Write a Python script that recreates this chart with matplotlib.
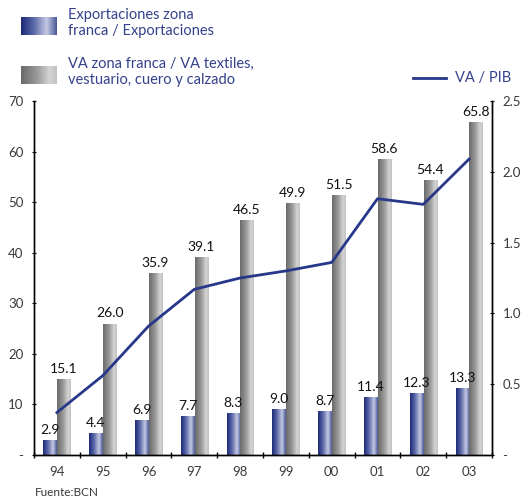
import numpy as np
import matplotlib
matplotlib.use("Agg")
import matplotlib.pyplot as plt
from matplotlib.colors import LinearSegmentedColormap
from matplotlib.lines import Line2D

plt.rcParams['font.family'] = ['Lato', 'DejaVu Sans']

# ---------------- data ----------------
years = ["94", "95", "96", "97", "98", "99", "00", "01", "02", "03"]
export_share = [2.9, 4.4, 6.9, 7.7, 8.3, 9.0, 8.7, 11.4, 12.3, 13.3]
va_share = [15.1, 26.0, 35.9, 39.1, 46.5, 49.9, 51.5, 58.6, 54.4, 65.8]
va_pib = [0.30, 0.56, 0.91, 1.17, 1.25, 1.30, 1.36, 1.81, 1.77, 2.09]
left_ticks = [0, 10, 20, 30, 40, 50, 60, 70]
right_ticks = [0, 0.5, 1.0, 1.5, 2.0, 2.5]
legend_labels = ["Exportaciones zona\nfranca / Exportaciones",
                 "VA zona franca / VA textiles,\nvestuario, cuero y calzado",
                 "VA / PIB"]
source = "Fuente:BCN"

# ---------------- styles ----------------
navy = "#27378a"
text_navy = "#34418c"
blue_cmap = LinearSegmentedColormap.from_list(
    "bl", [(0, "#1c2a78"), (0.35, "#5a67a8"), (0.72, "#c4c9e2"), (1.0, "#4a5898")])
grey_cmap = LinearSegmentedColormap.from_list(
    "gr", [(0, "#6a6a6a"), (0.45, "#9a9a9a"), (0.8, "#d4d4d4"), (1.0, "#c2c2c2")])
grad = np.linspace(0, 1, 64).reshape(1, -1)

fig = plt.figure(figsize=(5.21, 4.99), dpi=100)
ax = fig.add_axes([34 / 521, 44 / 499, 458 / 521, 354 / 499])
ax2 = ax.twinx()

x = np.arange(len(years))
w = 0.29
off = 0.15


def grad_bars(axis, xs, vals, cmap):
    bars = axis.bar(xs, vals, width=w, color="none", edgecolor="none", zorder=2)
    for b in bars:
        x0, y0 = b.get_x(), b.get_y()
        im = axis.imshow(grad, cmap=cmap, aspect="auto",
                         extent=[x0, x0 + b.get_width(), y0, y0 + b.get_height()],
                         zorder=2, interpolation="bilinear")
        im.set_clip_path(b)
    return bars


b1 = grad_bars(ax, x - off, export_share, blue_cmap)
b2 = grad_bars(ax, x + off, va_share, grey_cmap)

for bars, vals in ((b1, export_share), (b2, va_share)):
    for b, v in zip(bars, vals):
        ax.text(b.get_x() + b.get_width() / 2, v + 0.8, f"{v:.1f}",
                ha="center", va="bottom", fontsize=10, color="#111111")

ax.set_xlim(-0.5, len(years) - 0.5)
ax.set_ylim(0, 70)
ax.set_yticks(left_ticks)
ax.set_yticklabels(["-" if t == 0 else f"{t}" for t in left_ticks])
ax.set_xticks(x)
ax.set_xticklabels(years)
ax.set_xticks(np.arange(-0.5, len(years), 1.0), minor=True)
ax.tick_params(axis="x", which="major", length=0, pad=8, labelsize=9.5, labelcolor="#3a3a3a")
ax.tick_params(axis="x", which="minor", length=4, direction="inout", width=1)
ax.tick_params(axis="y", length=3, direction="inout", labelsize=9.5, labelcolor="#3a3a3a", pad=6)

ax2.plot(x, va_pib, color=navy, lw=2.0, zorder=5)
ax2.set_ylim(0, 2.5)
ax2.set_yticks(right_ticks)
ax2.set_yticklabels(["-" if t == 0 else f"{t:.1f}" for t in right_ticks])
ax2.tick_params(axis="y", length=3, direction="inout", labelsize=9.5, labelcolor="#3a3a3a", pad=6)

for a in (ax, ax2):
    a.spines["top"].set_visible(False)
    for s in ("left", "right", "bottom"):
        a.spines[s].set_linewidth(1.0)
        a.spines[s].set_color("black")

# ---------------- legend ----------------
def swatch(rect, cmap):
    sa = fig.add_axes(rect)
    sa.imshow(grad, cmap=cmap, aspect="auto", interpolation="bilinear")
    sa.set_axis_off()


swatch([21 / 521, 1 - 35 / 499, 35 / 521, 18 / 499], blue_cmap)
swatch([21 / 521, 1 - 84 / 499, 35 / 521, 18 / 499], grey_cmap)
fig.text(68 / 521, 1 - 8 / 499, legend_labels[0], ha="left", va="top",
         fontsize=10.5, color=text_navy, linespacing=1.2)
fig.text(68 / 521, 1 - 57 / 499, legend_labels[1], ha="left", va="top",
         fontsize=10.5, color=text_navy, linespacing=1.2)
fig.add_artist(Line2D([413 / 521, 446 / 521], [1 - 78 / 499, 1 - 78 / 499],
                      color=navy, lw=2.0, transform=fig.transFigure))
fig.text(455 / 521, 1 - 78 / 499, legend_labels[2], ha="left", va="center",
         fontsize=10.5, color=text_navy)

fig.text(35 / 521, 1 - 492 / 499, source, ha="left", va="center",
         fontsize=8.5, color="#3a3a3a")

fig.savefig("out.png", dpi=100)
